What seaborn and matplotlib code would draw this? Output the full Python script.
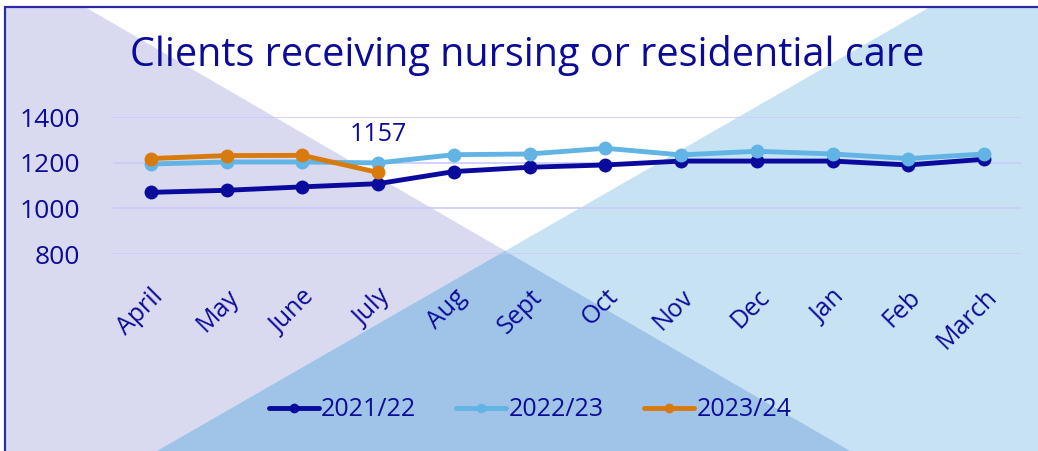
import numpy as np
import pandas as pd
import matplotlib
matplotlib.use("Agg")
import matplotlib.pyplot as plt
import seaborn as sns
from matplotlib.patches import Polygon
from matplotlib.lines import Line2D

# ---------------- data ----------------
months = ["April", "May", "June", "July", "Aug", "Sept", "Oct", "Nov", "Dec", "Jan", "Feb", "March"]
series_names = ["2021/22", "2022/23", "2023/24"]
v_2021_22 = [1070, 1079, 1094, 1108, 1161, 1180, 1190, 1207, 1207, 1207, 1190, 1215]
v_2022_23 = [1194, 1203, 1203, 1199, 1235, 1238, 1263, 1234, 1250, 1238, 1218, 1238]
v_2023_24 = [1218, 1231, 1232, 1157]
y_ticks = [800, 1000, 1200, 1400]
title = "Clients receiving nursing or residential care"

# ---------------- styling ----------------
TEXT = "#0b0b98"
colors = {"2021/22": "#0a0a9c", "2022/23": "#62b4e4", "2023/24": "#d97a0c"}

sns.set_theme(style="white")
plt.rcParams["font.family"] = ["Open Sans", "DejaVu Sans"]

rows = []
for name, vals in zip(series_names, [v_2021_22, v_2022_23, v_2023_24]):
    for m, v in zip(months, vals):
        rows.append({"month": m, "series": name, "value": v})
df = pd.DataFrame(rows)

W, H = 1038, 451
fig = plt.figure(figsize=(W / 100, H / 100), dpi=100, facecolor="white")

def px(x, y):
    return (x / W, 1 - y / H)

# background geometric shapes
lav = Polygon([px(5, 7), px(85, 7), px(850, 451), px(5, 451)], closed=True,
              transform=fig.transFigure, facecolor="#d9d9ef", edgecolor="none", zorder=-10)
blu = Polygon([px(930, 7), px(W, 7), px(W, H), px(157, 451)], closed=True,
              transform=fig.transFigure, facecolor="#c6e2f3", edgecolor="none", zorder=-10)
ovl = Polygon([px(505, 251), px(850, 451), px(157, 451)], closed=True,
              transform=fig.transFigure, facecolor="#9fc4e7", edgecolor="none", zorder=-9)
fig.patches.extend([lav, blu, ovl])
fig.lines.append(Line2D([px(5, 7)[0], px(W, 7)[0]], [px(5, 7)[1]] * 2,
                        transform=fig.transFigure, color="#2b2ba8", lw=1.6))
fig.lines.append(Line2D([px(5, 7)[0]] * 2, [px(5, 7)[1], 0],
                        transform=fig.transFigure, color="#2b2ba8", lw=1.6))

ax = fig.add_axes([113 / W, 1 - 254 / H, 909 / W, 137 / H])
ax.set_facecolor("none")

sns.lineplot(data=df, x="month", y="value", hue="series", hue_order=series_names,
             palette=colors, marker="o", markersize=10, markeredgewidth=0,
             linewidth=3.5, sort=False, ax=ax)

ax.set_xlim(-0.5, len(months) - 0.5)
ax.set_ylim(y_ticks[0], y_ticks[-1])
ax.set_yticks(y_ticks)
ax.set_xlabel("")
ax.set_ylabel("")
for s in ax.spines.values():
    s.set_visible(False)
ax.yaxis.grid(True, color="#cacaff", linewidth=1.2)
ax.set_axisbelow(True)
ax.tick_params(axis="y", length=0, pad=24, labelsize=19, labelcolor=TEXT)
ax.tick_params(axis="x", length=0, pad=22, labelsize=18, labelcolor=TEXT)
for lab in ax.get_xticklabels():
    lab.set_rotation(45)
    lab.set_ha("right")
    lab.set_va("top")
    lab.set_rotation_mode("anchor")

# data label on last 2023/24 point
ax.annotate(str(v_2023_24[-1]), xy=(len(v_2023_24) - 1, v_2023_24[-1]),
            xytext=(0, 27), textcoords="offset points", ha="center", va="center",
            fontsize=18, color=TEXT)

handles, labels = ax.get_legend_handles_labels()
for h in handles:
    h.set_markersize(7)
    h.set_linewidth(3.5)
ax.legend(handles, labels, loc="center", bbox_to_anchor=px(530, 410),
          bbox_transform=fig.transFigure, ncol=3, frameon=False, fontsize=18,
          labelcolor=TEXT, handlelength=2.0, handletextpad=0.1, columnspacing=1.6)

fig.text(*px(527, 55), title, ha="center", va="center", fontsize=28.5, color=TEXT)

fig.savefig("out.png", dpi=100, facecolor=fig.get_facecolor())
